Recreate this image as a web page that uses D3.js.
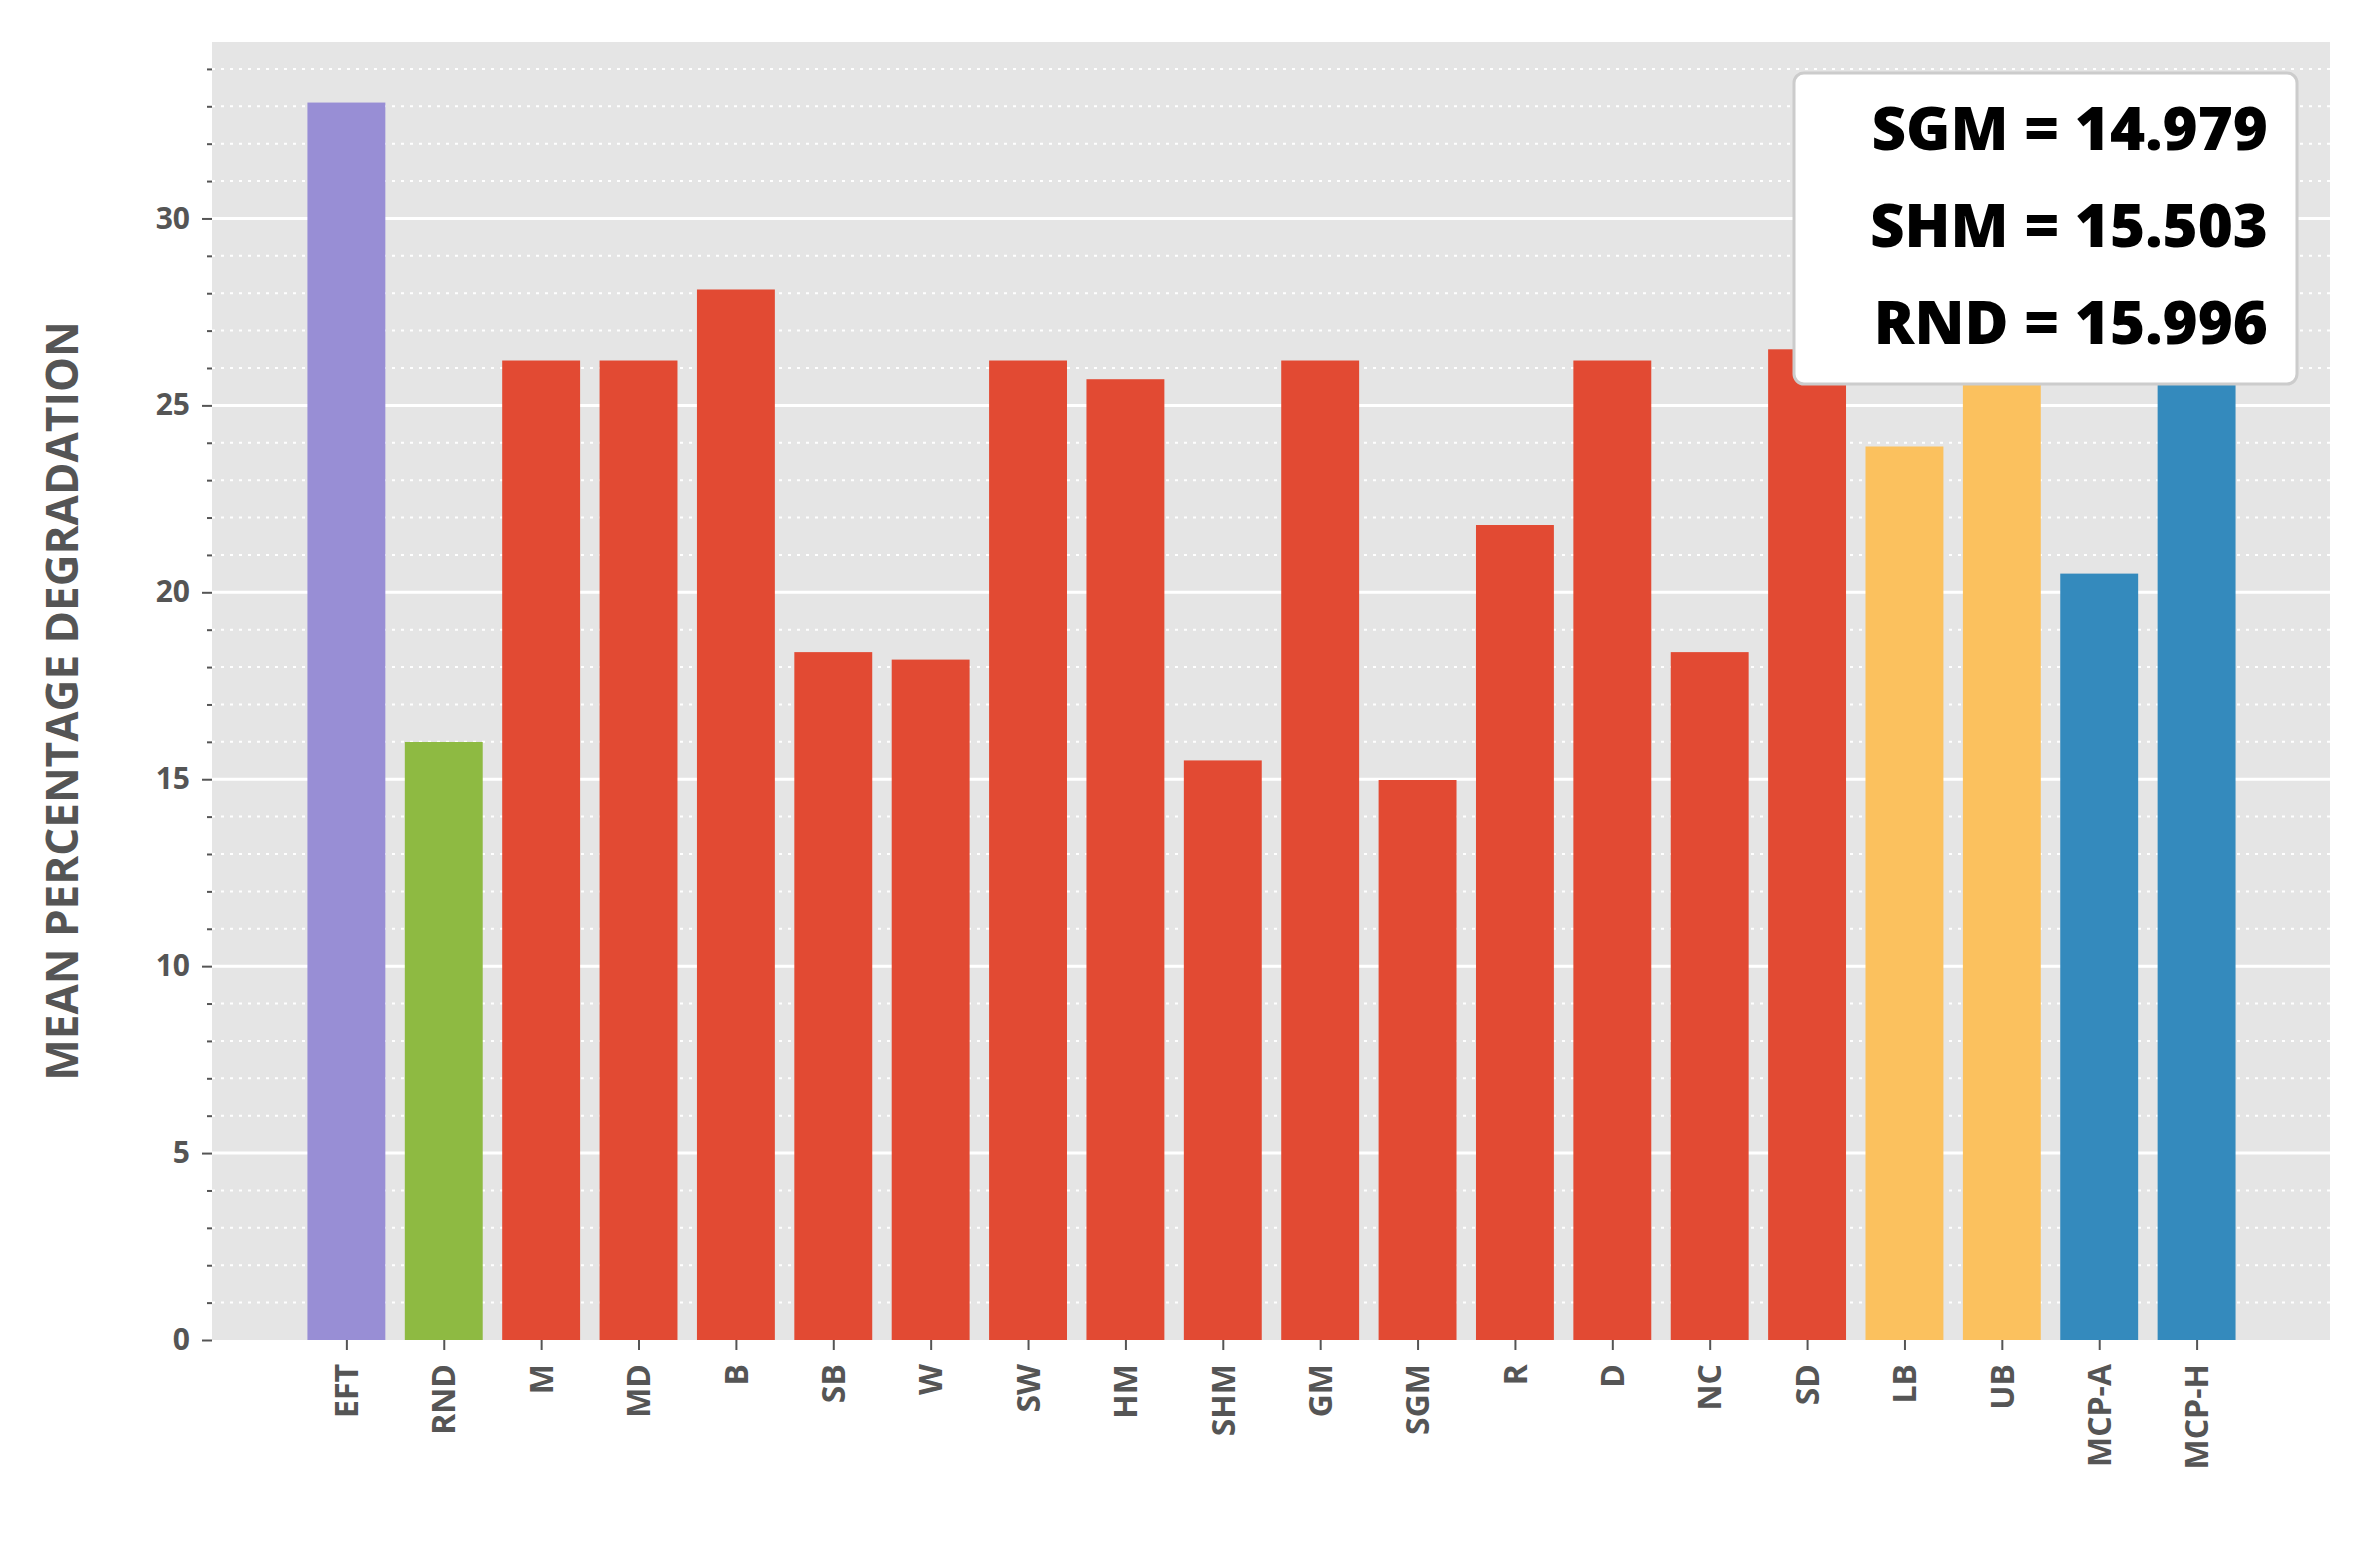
<!DOCTYPE html>
<html><head><meta charset="utf-8">
<script src="https://cdn.jsdelivr.net/npm/d3@7"></script>
<style>body{margin:0;background:#fff}</style>
</head><body><div id="chart"></div>
<script>
var categories = ["EFT","RND","M","MD","B","SB","W","SW","HM","SHM","GM","SGM","R","D","NC","SD","LB","UB","MCP-A","MCP-H"];
var values = [33.1,15.996,26.2,26.2,28.1,18.4,18.2,26.2,25.7,15.503,26.2,14.979,21.8,26.2,18.4,26.5,23.9,26.2,20.5,26.2];
var groups = ["eft","rnd","h","h","h","h","h","h","h","h","h","h","h","h","h","h","bound","bound","mcp","mcp"];
var groupColors = {eft:"#988ED5", rnd:"#8EBA42", h:"#E24A33", bound:"#FBC15E", mcp:"#348ABD"};
var yTicks = [0,5,10,15,20,25,30];
var legendLines = ["SGM = 14.979","SHM = 15.503","RND = 15.996"];

var W = 2360, H = 1560;
var mLeft = 212, mRight = 2330, mTop = 42, mBottom = 1340;
var font = "'Open Sans','DejaVu Sans',sans-serif";

var svg = d3.select("#chart").append("svg").attr("width", W).attr("height", H);
var x = d3.scaleLinear().domain([-1.38, 20.37]).range([mLeft, mRight]);
var y = d3.scaleLinear().domain([0, 34.72]).range([mBottom, mTop]);
var bw = (x(1) - x(0)) * 0.8;

svg.append("rect").attr("x", mLeft).attr("y", mTop).attr("width", mRight - mLeft).attr("height", mBottom - mTop).attr("fill", "#E5E5E5");

// minor dotted grid
var minor = d3.range(1, 35).filter(function(d){ return d % 5 !== 0; });
svg.append("g").selectAll("line").data(minor)
  .enter().append("line")
  .attr("x1", mLeft).attr("x2", mRight)
  .attr("y1", function(d){ return y(d); }).attr("y2", function(d){ return y(d); })
  .attr("stroke", "#fff").attr("stroke-width", 2).attr("stroke-dasharray", "3,6");
// major grid
svg.append("g").selectAll("line").data(yTicks.slice(1))
  .enter().append("line")
  .attr("x1", mLeft).attr("x2", mRight)
  .attr("y1", function(d){ return y(d); }).attr("y2", function(d){ return y(d); })
  .attr("stroke", "#fff").attr("stroke-width", 3);

svg.append("g").selectAll("rect").data(values).enter().append("rect")
  .attr("x", function(d, i){ return x(i) - bw / 2; })
  .attr("y", function(d){ return y(d); })
  .attr("width", bw)
  .attr("height", function(d){ return y(0) - y(d); })
  .attr("fill", function(d, i){ return groupColors[groups[i]]; });

// y axis
var ya = svg.append("g").attr("transform", "translate(" + mLeft + ",0)")
  .call(d3.axisLeft(y).tickValues(yTicks).tickSize(10).tickPadding(12));
ya.select(".domain").remove();
ya.selectAll("line").attr("stroke", "#555").attr("stroke-width", 2);
ya.selectAll("text").attr("font-family", font).attr("font-weight", "bold").attr("font-size", 30).attr("fill", "#555");
var ym = svg.append("g").attr("transform", "translate(" + mLeft + ",0)")
  .call(d3.axisLeft(y).tickValues(minor).tickSize(5).tickFormat(""));
ym.select(".domain").remove();
ym.selectAll("line").attr("stroke", "#555").attr("stroke-width", 2);

// x axis
var xa = svg.append("g").attr("transform", "translate(0," + mBottom + ")")
  .call(d3.axisBottom(x).tickValues(d3.range(categories.length)).tickFormat(function(i){ return categories[i]; }).tickSize(10));
xa.select(".domain").remove();
xa.selectAll("line").attr("stroke", "#555").attr("stroke-width", 2);
xa.selectAll("text").attr("font-family", font).attr("font-weight", "bold").attr("font-size", 32).attr("fill", "#555")
  .attr("transform", "rotate(-90)").attr("text-anchor", "end").attr("dy", "0.35em").attr("x", -24).attr("y", 0);

svg.append("text").attr("transform", "translate(78," + ((mTop + mBottom) / 2 + 10) + ") rotate(-90)")
  .attr("text-anchor", "middle").attr("font-family", font).attr("font-weight", "bold").attr("font-size", 44).attr("fill", "#555")
  .text("MEAN PERCENTAGE DEGRADATION");

// legend box
svg.append("rect").attr("x", 1794).attr("y", 73).attr("width", 503).attr("height", 311).attr("rx", 10)
  .attr("fill", "#fff").attr("stroke", "#ccc").attr("stroke-width", 3);
svg.append("g").selectAll("text").data(legendLines).enter().append("text")
  .attr("x", 2268).attr("y", function(d, i){ return 150 + i * 97; })
  .attr("text-anchor", "end").attr("font-family", font).attr("font-weight", "800").attr("font-size", 60).attr("fill", "#000")
  .text(function(d){ return d; });
</script></body></html>
